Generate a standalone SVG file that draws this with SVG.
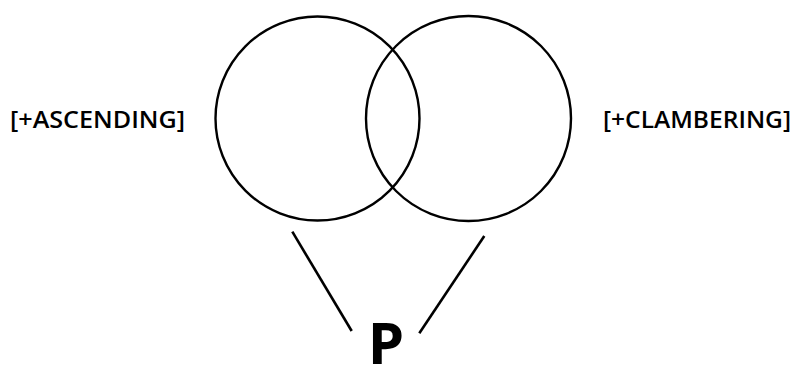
<svg xmlns="http://www.w3.org/2000/svg" width="795" height="366" viewBox="0 0 795 366">
<style>
.c{fill:none;stroke:#000;stroke-width:2.4}
.l{stroke:#000;stroke-width:2.6;fill:none}
.t{font-family:"Open Sans","DejaVu Sans",sans-serif;font-size:23px;font-weight:600;fill:#000}
.p{font-family:"Open Sans","DejaVu Sans",sans-serif;font-size:58px;font-weight:bold;fill:#000}
</style>
<rect width="795" height="366" fill="#fff"/>
<g id="ascending"><circle class="c" cx="317.5" cy="118.5" r="102"/></g>
<g id="clambering"><circle class="c" cx="468.5" cy="118.5" r="102.5"/></g>
<g id="label-ascending"><text class="t" x="10" y="127.5" textLength="175" lengthAdjust="spacingAndGlyphs">[+ASCENDING]</text></g>
<g id="label-clambering"><text class="t" x="603" y="127.5" textLength="188" lengthAdjust="spacingAndGlyphs">[+CLAMBERING]</text></g>
<g id="p"><text class="p" x="386" y="364" text-anchor="middle">P</text></g>
<g id="connectors">
<line class="l" x1="292.3" y1="231.7" x2="351.7" y2="331"/>
<line class="l" x1="484.3" y1="236" x2="419.3" y2="333.3"/>
</g>
</svg>
